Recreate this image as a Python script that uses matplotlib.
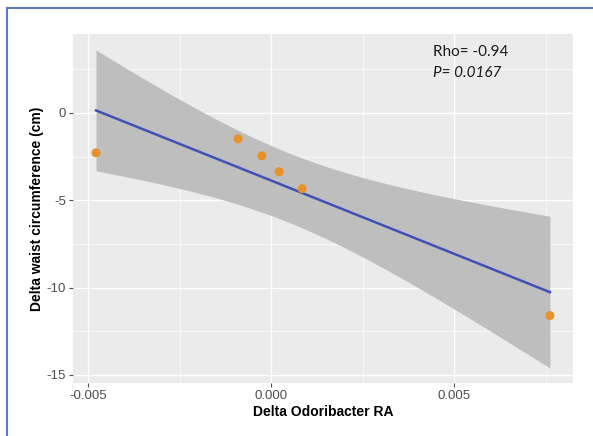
import numpy as np
import matplotlib
matplotlib.use('Agg')
import matplotlib.pyplot as plt
from matplotlib.lines import Line2D

plt.rcParams['axes.unicode_minus'] = False

# Data
delta_ra = [-0.00478, -0.0009, -0.00025, 0.00022, 0.00085, 0.00762]
delta_waist = [-2.29, -1.49, -2.46, -3.37, -4.34, -11.6]
x_ticks = [-0.005, 0.000, 0.005]
x_ticklabels = ['-0.005', '0.000', '0.005']
y_ticks = [-15, -10, -5, 0]
rho_text = 'Rho= -0.94'
p_text = 'P= 0.0167'

T_975_DF4 = 2.776  # t quantile for 95% CI, n-2 = 4

x = np.array(delta_ra)
y = np.array(delta_waist)
n = len(x)

# linear fit + confidence band (like geom_smooth(method='lm'))
slope, intercept = np.polyfit(x, y, 1)
resid = y - (slope * x + intercept)
s = np.sqrt(np.sum(resid ** 2) / (n - 2))
sxx = np.sum((x - x.mean()) ** 2)
xs = np.linspace(x.min(), x.max(), 100)
ys = slope * xs + intercept
se = s * np.sqrt(1 / n + (xs - x.mean()) ** 2 / sxx)
lo = ys - T_975_DF4 * se
hi = ys + T_975_DF4 * se

fig = plt.figure(figsize=(5.93, 4.36), dpi=100)
ax = fig.add_axes([73 / 593, 1 - 383 / 436, 500 / 593, 349 / 436])
ax.set_facecolor('#EBEBEB')

# grid
for v in [-0.0025, 0.0025, 0.0075]:
    ax.axvline(v, color='white', lw=0.5, zorder=0)
for v in [-12.5, -7.5, -2.5, 2.5]:
    ax.axhline(v, color='white', lw=0.5, zorder=0)
for v in x_ticks:
    ax.axvline(v, color='white', lw=1.0, zorder=0)
for v in y_ticks:
    ax.axhline(v, color='white', lw=1.0, zorder=0)

ax.fill_between(xs, lo, hi, color='#BEBEBE', lw=0, zorder=1)
ax.plot(xs, ys, color='#3F51B5', lw=1.8, zorder=2)
ax.scatter(x, y, s=42, color='#E8912A', edgecolors='none', zorder=3)

ax.set_xlim(-0.00541, 0.00825)
ax.set_ylim(-15.46, 4.51)
ax.set_xticks(x_ticks)
ax.set_xticklabels(x_ticklabels)
ax.set_yticks(y_ticks)
ax.tick_params(axis='both', colors='#4D4D4D', length=3, width=0.8, labelsize=9.5,
               labelcolor='#4D4D4D', pad=2)
for sp in ax.spines.values():
    sp.set_visible(False)

ax.set_xlabel('Delta Odoribacter RA', fontsize=10, fontweight='bold',
              family='Liberation Sans', labelpad=2)
ax.set_ylabel('Delta waist circumference (cm)', fontsize=10, fontweight='bold',
              family='Liberation Sans', labelpad=2)
for lab in ax.get_xticklabels() + ax.get_yticklabels():
    lab.set_family('Liberation Sans')

ax.text(433 / 593, 1 - 52 / 436, rho_text, transform=fig.transFigure,
        fontsize=11, family='Lato', color='#1A1A1A', va='center', ha='left')
ax.text(433 / 593, 1 - 73 / 436, p_text, transform=fig.transFigure,
        fontsize=11, family='Lato', style='italic', color='#1A1A1A',
        va='center', ha='left')

# blue frame on top and left
fig.add_artist(Line2D([7 / 593, 7 / 593], [0, 1 - 8 / 436], color='#5A78BE', lw=1.5,
                      transform=fig.transFigure))
fig.add_artist(Line2D([7 / 593, 1], [1 - 8 / 436, 1 - 8 / 436], color='#5A78BE', lw=1.5,
                      transform=fig.transFigure))

fig.savefig('out.png', dpi=100)
plt.close()
